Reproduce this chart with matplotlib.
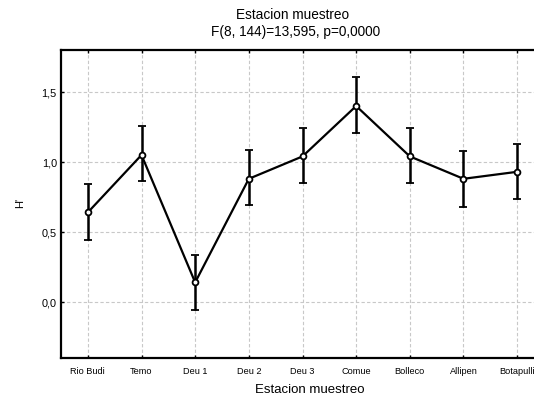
import matplotlib
matplotlib.use("Agg")
import matplotlib.pyplot as plt

plt.rcParams['font.family'] = ['Liberation Sans', 'DejaVu Sans']

categories = ["Rio Budi", "Temo", "Deu 1", "Deu 2", "Deu 3", "Comue", "Bolleco", "Allipen", "Botapulli"]
means = [0.64, 1.05, 0.14, 0.88, 1.04, 1.40, 1.04, 0.88, 0.93]
lower = [0.445, 0.865, -0.06, 0.69, 0.85, 1.207, 0.85, 0.68, 0.738]
upper = [0.84, 1.26, 0.336, 1.088, 1.245, 1.604, 1.245, 1.078, 1.13]
yticks = [0.0, 0.5, 1.0, 1.5]
ytick_labels = ["0,0", "0,5", "1,0", "1,5"]

W, H = 534, 400
fig = plt.figure(figsize=(W / 100, H / 100), dpi=100)
left, right, top, bottom = 61, 544, 50, 358
ax = fig.add_axes([left / W, 1 - bottom / H, (right - left) / W, (bottom - top) / H])

x = list(range(len(categories)))
yerr = [[m - l for m, l in zip(means, lower)], [u - m for m, u in zip(means, upper)]]
ax.errorbar(x, means, yerr=yerr, color='black', lw=1.6, elinewidth=1.8,
            capsize=2.6, capthick=1.8, marker='o', ms=4.2, mfc='white',
            mec='black', mew=1.3, zorder=3)

ax.set_xlim(-0.5, len(categories) - 0.5)
ax.set_ylim(-0.4, 1.8)
ax.set_xticks(x)
ax.set_xticklabels(categories, fontsize=6.6)
ax.set_yticks(yticks)
ax.set_yticklabels(ytick_labels, fontsize=7.8)
ax.tick_params(axis='x', direction='in', length=2.5, width=1, top=True, pad=6.5)
ax.tick_params(axis='y', direction='in', length=2, width=1, pad=3)
ax.grid(True, color='#c8c8c8', linestyle=(0, (3, 2)), linewidth=0.8)
ax.set_axisbelow(True)
for s in ax.spines.values():
    s.set_linewidth(1.6)
    s.set_color('black')

fig.text(293 / W, 1 - 15 / H, "Estacion muestreo", ha='center', va='center', fontsize=9.8)
fig.text(296 / W, 1 - 32 / H, "F(8, 144)=13,595, p=0,0000", ha='center', va='center', fontsize=9.8)
fig.text(310 / W, 1 - 390 / H, "Estacion muestreo", ha='center', va='center', fontsize=9.5)
fig.text(20 / W, 1 - 203 / H, "H'", ha='center', va='center', rotation=90, fontsize=8)

fig.savefig("out.png", dpi=100)
